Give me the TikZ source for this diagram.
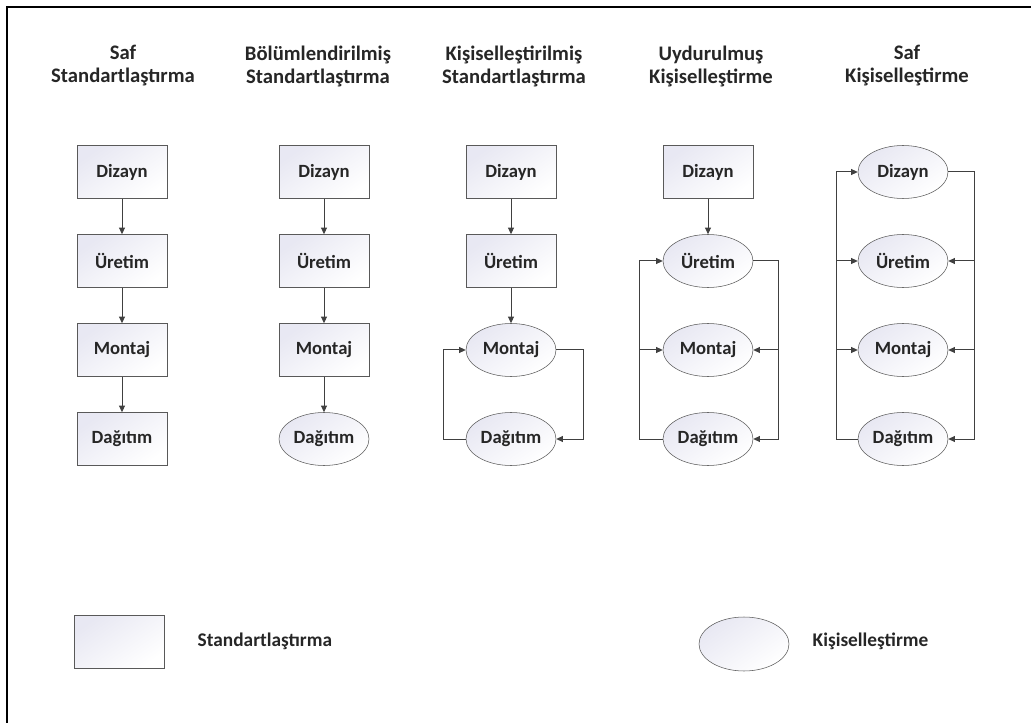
\documentclass[tikz,border=0pt]{standalone}
\usepackage{fontspec}
\setmainfont{Carlito}
\usepackage{tikz}
\usetikzlibrary{arrows.meta,positioning,shapes.geometric}

\begin{document}
\begin{tikzpicture}[
  x=0.75pt, y=-0.75pt,
  every node/.style={font=\bfseries\fontsize{14}{17}\selectfont, text=black!85},
  title/.style={align=center, font=\bfseries\fontsize{15.5}{17.25}\selectfont},
  legtext/.style={anchor=west, font=\bfseries\fontsize{14.5}{17}\selectfont},
  stbox/.style={draw=black!65, top color=blue!30!gray!14!white, bottom color=white,
    shading angle=35, minimum width=67.5pt, minimum height=39.75pt, inner sep=0pt},
  kibox/.style={ellipse, draw=black!65, top color=blue!30!gray!14!white, bottom color=white,
    shading angle=35, minimum width=67.5pt, minimum height=39.75pt, inner sep=0pt},
  arr/.style={-{Triangle[length=5pt,width=4.5pt]}, black!75, line width=0.75pt}
]
\useasboundingbox (0,0) rectangle (1031,723);
\draw[line width=1.5pt] (7,730) -- (7,7) -- (1040,7);

% column titles
\node[title] (t1) at (123,66) {Saf\\Standartlaştırma};
\node[title] (t2) at (318,66) {Bölümlendirilmiş\\Standartlaştırma};
\node[title] (t3) at (514,66) {Kişiselleştirilmiş\\Standartlaştırma};
\node[title] (t4) at (711,66) {Uydurulmuş\\Kişiselleştirme};
\node[title] (t5) at (907,66) {Saf\\Kişiselleştirme};

% saf standartlastirma
\node[stbox] (d1) at (122,172) {Dizayn};
\node[stbox] (u1) at (122,261) {Üretim};
\node[stbox] (m1) at (122,350) {Montaj};
\node[stbox] (g1) at (122,439) {Dağıtım};
\draw[arr] (d1) -- (u1);
\draw[arr] (u1) -- (m1);
\draw[arr] (m1) -- (g1);

% bolumlendirilmis standartlastirma
\node[stbox] (d2) at (324,172) {Dizayn};
\node[stbox] (u2) at (324,261) {Üretim};
\node[stbox] (m2) at (324,350) {Montaj};
\node[kibox] (g2) at (324,439) {Dağıtım};
\draw[arr] (d2) -- (u2);
\draw[arr] (u2) -- (m2);
\draw[arr] (m2) -- (g2);

% kisisellestirilmis standartlastirma
\node[stbox] (d3) at (511,172) {Dizayn};
\node[stbox] (u3) at (511,261) {Üretim};
\node[kibox] (m3) at (511,350) {Montaj};
\node[kibox] (g3) at (511,439) {Dağıtım};
\coordinate (l3) at (443,0);
\coordinate (r3) at (583,0);
\draw[arr] (d3) -- (u3);
\draw[arr] (u3) -- (m3);
\draw[arr] (m3.east) -- (m3.east -| r3) |- (g3.east);
\draw[arr] (g3.west) -- (g3.west -| l3) |- (m3.west);

% uydurulmus kisisellestirme
\node[stbox] (d4) at (708,172) {Dizayn};
\node[kibox] (u4) at (708,261) {Üretim};
\node[kibox] (m4) at (708,350) {Montaj};
\node[kibox] (g4) at (708,439) {Dağıtım};
\coordinate (l4) at (639,0);
\coordinate (r4) at (778,0);
\draw[arr] (d4) -- (u4);
\draw[arr] (u4.east) -- (u4.east -| r4) |- (g4.east);
\draw[arr] (m4.east -| r4) -- (m4.east);
\draw[arr] (g4.west) -- (g4.west -| l4) |- (u4.west);
\draw[arr] (m4.west -| l4) -- (m4.west);

% saf kisisellestirme
\node[kibox] (d5) at (903,172) {Dizayn};
\node[kibox] (u5) at (903,261) {Üretim};
\node[kibox] (m5) at (903,350) {Montaj};
\node[kibox] (g5) at (903,439) {Dağıtım};
\coordinate (l5) at (836,0);
\coordinate (r5) at (974,0);
\draw[arr] (d5.east) -- (d5.east -| r5) |- (g5.east);
\draw[arr] (u5.east -| r5) -- (u5.east);
\draw[arr] (m5.east -| r5) -- (m5.east);
\draw[arr] (g5.west) -- (g5.west -| l5) |- (d5.west);
\draw[arr] (u5.west -| l5) -- (u5.west);
\draw[arr] (m5.west -| l5) -- (m5.west);

% legend
\node[stbox] (lgs) at (119,642) {};
\node[legtext] (lgst) at (193,641) {Standartlaştırma};
\node[kibox, minimum height=40.5pt] (lgk) at (744,644) {};
\node[legtext] (lgkt) at (808,641) {Kişiselleştirme};
\end{tikzpicture}
\end{document}
